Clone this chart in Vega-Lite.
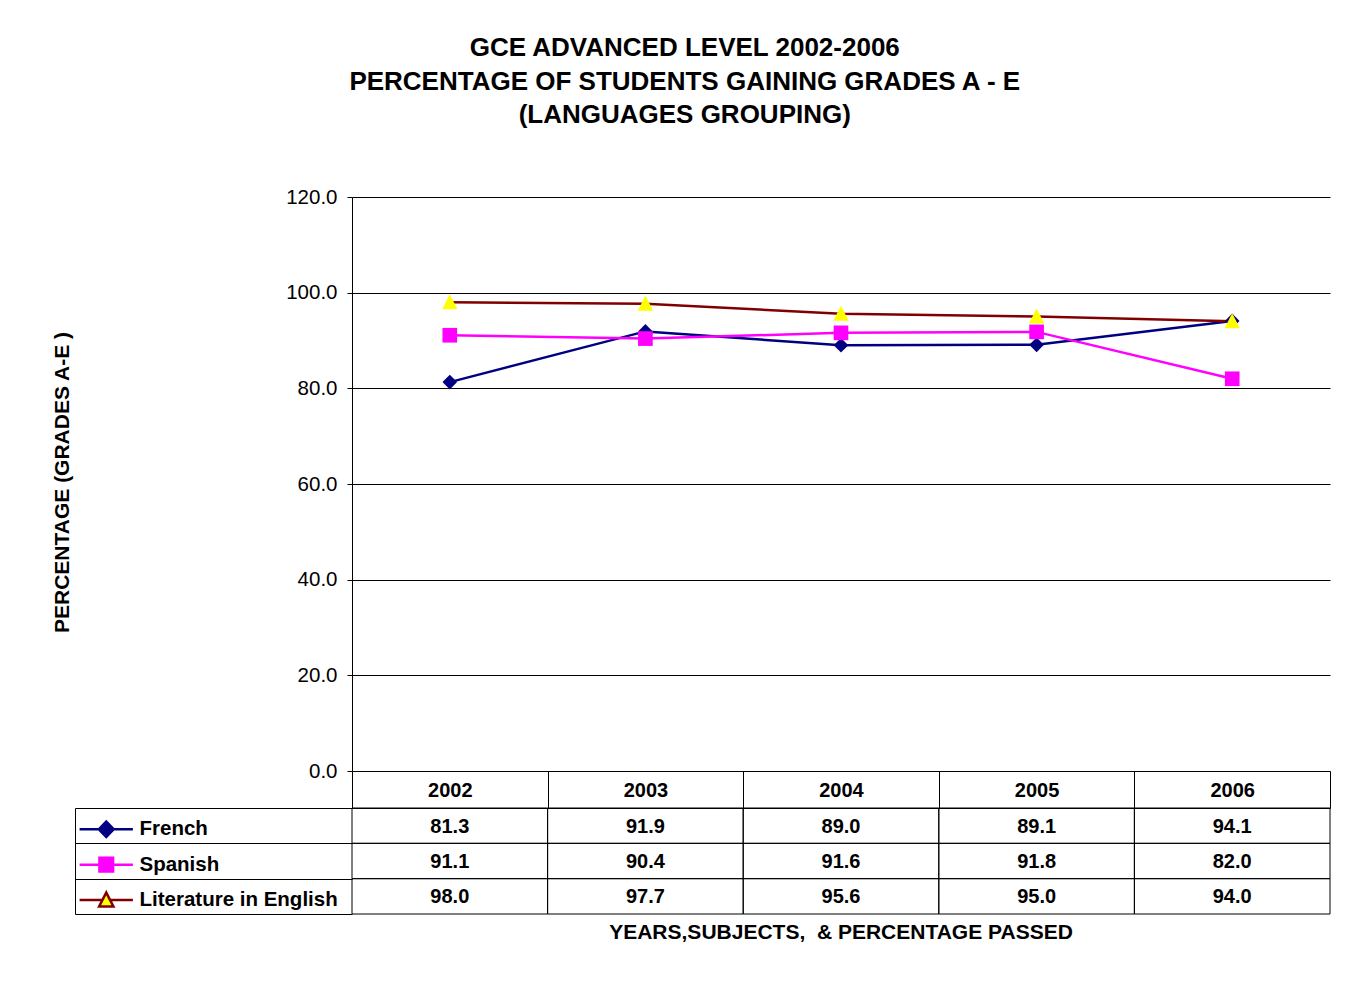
{
  "$schema": "https://vega.github.io/schema/vega-lite/v6.json",
  "background": "white",
  "padding": {"left": 51, "top": 35, "right": 20, "bottom": 10},
  "config": {"view": {"stroke": null}, "font": "Liberation Sans"},
  "title": {
    "text": ["GCE ADVANCED LEVEL 2002-2006", "PERCENTAGE OF STUDENTS GAINING GRADES A - E", "(LANGUAGES GROUPING)"],
    "fontSize": 26, "fontWeight": "bold", "color": "black", "lineHeight": 33.5,
    "anchor": "middle", "frame": "bounds", "offset": 59, "dx": -6
  },
  "datasets": {
    "grades": [
      {"subject": "French", "year": "2002", "value": 81.3},
      {"subject": "French", "year": "2003", "value": 91.9},
      {"subject": "French", "year": "2004", "value": 89.0},
      {"subject": "French", "year": "2005", "value": 89.1},
      {"subject": "French", "year": "2006", "value": 94.1},
      {"subject": "Spanish", "year": "2002", "value": 91.1},
      {"subject": "Spanish", "year": "2003", "value": 90.4},
      {"subject": "Spanish", "year": "2004", "value": 91.6},
      {"subject": "Spanish", "year": "2005", "value": 91.8},
      {"subject": "Spanish", "year": "2006", "value": 82.0},
      {"subject": "Literature in English", "year": "2002", "value": 98.0},
      {"subject": "Literature in English", "year": "2003", "value": 97.7},
      {"subject": "Literature in English", "year": "2004", "value": 95.6},
      {"subject": "Literature in English", "year": "2005", "value": 95.0},
      {"subject": "Literature in English", "year": "2006", "value": 94.0}
    ]
  },
  "data": {"name": "grades"},
  "spacing": 37,
  "bounds": "flush",
  "resolve": {
    "scale": {"x": "independent", "y": "independent", "shape": "independent", "fill": "independent", "stroke": "independent"},
    "legend": {"shape": "independent", "fill": "independent", "stroke": "independent"}
  },
  "vconcat": [
    {
      "width": 978,
      "height": 574,
      "encoding": {
        "x": {"field": "year", "type": "ordinal", "scale": {"type": "point", "padding": 0.5}, "axis": null},
        "y": {
          "field": "value", "type": "quantitative", "scale": {"domain": [0, 120]},
          "axis": {
            "values": [0, 20, 40, 60, 80, 100, 120], "format": ".1f",
            "labelFontSize": 20.5, "labelColor": "black", "labelPadding": 10,
            "tickSize": 5, "tickColor": "black", "domainColor": "black",
            "grid": true, "gridColor": "black", "gridOpacity": 1,
            "title": "PERCENTAGE (GRADES A-E )", "titleFontSize": 21, "titleFontWeight": "bold",
            "titleColor": "black", "titleX": -290, "titleY": 285, "titleBaseline": "middle", "titleAngle": -90
          }
        }
      },
      "layer": [
        {
          "mark": {"type": "line", "strokeWidth": 2.5},
          "encoding": {
            "stroke": {
              "field": "subject", "type": "nominal",
              "scale": {"domain": ["French", "Spanish", "Literature in English"], "range": ["#000080", "#FF00FF", "#800000"]},
              "legend": null
            }
          }
        },
        {
          "mark": {"type": "point", "filled": true, "size": 215, "opacity": 1, "strokeWidth": 0},
          "encoding": {
            "shape": {
              "field": "subject", "type": "nominal",
              "scale": {"domain": ["French", "Spanish", "Literature in English"], "range": ["diamond", "square", "M-1.05,0.95H1.05L0,-1.1Z"]},
              "legend": null
            },
            "fill": {
              "field": "subject", "type": "nominal",
              "scale": {"domain": ["French", "Spanish", "Literature in English"], "range": ["#000080", "#FF00FF", "#FFFF00"]},
              "legend": null
            }
          }
        }
      ]
    },
    {
      "width": 978,
      "height": 106,
      "title": {
        "text": "YEARS,SUBJECTS,\u00a0 & PERCENTAGE PASSED", "orient": "bottom",
        "fontSize": 21, "fontWeight": "bold", "color": "black", "offset": 7, "anchor": "middle"
      },
      "encoding": {
        "x": {
          "field": "year", "type": "ordinal",
          "scale": {"type": "band", "paddingInner": 0, "paddingOuter": 0},
          "axis": {
            "orient": "top", "tickBand": "extent", "tickSize": 37, "tickColor": "black",
            "domainColor": "black", "labelFontSize": 20, "labelFontWeight": "bold", "labelColor": "black",
            "labelBaseline": "middle", "labelPadding": -19, "labelAngle": 0, "title": null, "grid": false
          }
        },
        "y": {
          "field": "subject", "type": "nominal",
          "sort": ["French", "Spanish", "Literature in English"],
          "scale": {"type": "band", "paddingInner": 0, "paddingOuter": 0},
          "axis": {
            "labels": false, "tickBand": "extent", "tickSize": -277, "offset": 277,
            "tickColor": "black", "domainColor": "black", "title": null, "grid": false
          }
        }
      },
      "layer": [
        {"mark": {"type": "rect", "fill": "transparent", "stroke": "black", "strokeWidth": 1}},
        {
          "mark": {"type": "text", "fontSize": 20, "fontWeight": "bold", "color": "black", "dy": 1},
          "encoding": {"text": {"field": "value", "type": "quantitative", "format": ".1f"}}
        },
        {
          "mark": {"type": "point", "filled": true, "opacity": 0},
          "encoding": {
            "shape": {
              "field": "subject", "type": "nominal",
              "scale": {
                "domain": ["French", "Spanish", "Literature in English"],
                "range": [
                  "M-4.1,0H4.1M-1.15,0L0,-1.2L1.15,0L0,1.2Z",
                  "M-4.1,0H4.1M-1.05,-1.05H1.05V1.05H-1.05Z",
                  "M-4.1,0H-0.6M0.6,0H4.1M-1.1,1H1.1L0,-1.15Z"
                ]
              },
              "legend": {
                "orient": "none", "legendX": -256, "legendY": 11, "title": null,
                "labelFontSize": 20.5, "labelFontWeight": "bold", "labelColor": "black", "labelLimit": 400,
                "symbolSize": 169, "symbolStrokeWidth": 2.5, "symbolOpacity": 1,
                "labelOffset": 23, "rowPadding": 9.4, "padding": 0
              }
            },
            "fill": {
              "field": "subject", "type": "nominal",
              "scale": {"domain": ["French", "Spanish", "Literature in English"], "range": ["#000080", "#FF00FF", "#FFFF00"]}
            },
            "stroke": {
              "field": "subject", "type": "nominal",
              "scale": {"domain": ["French", "Spanish", "Literature in English"], "range": ["#000080", "#FF00FF", "#800000"]}
            }
          }
        }
      ]
    }
  ]
}
